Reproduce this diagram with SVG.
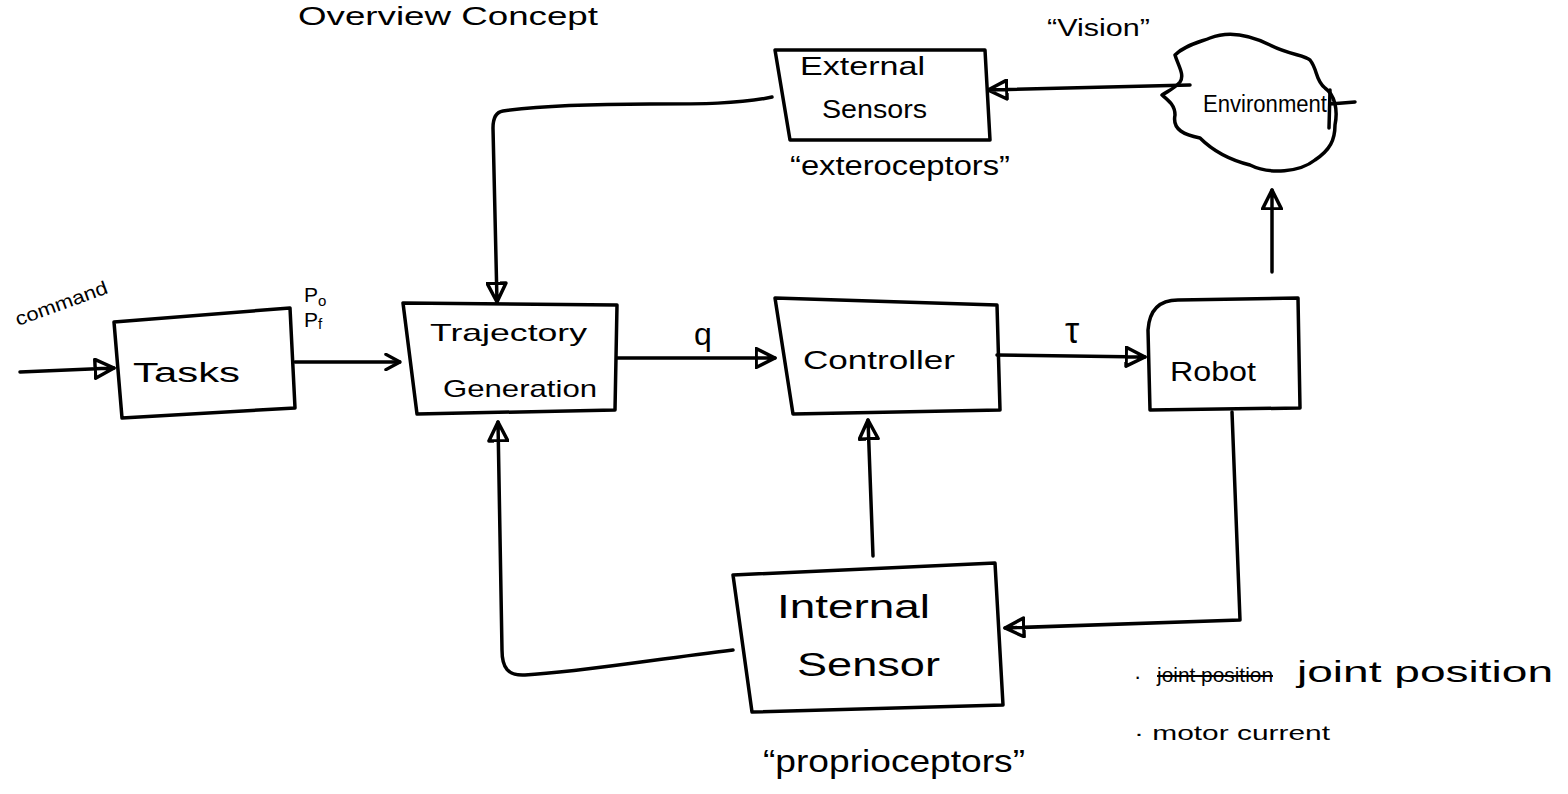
<svg xmlns="http://www.w3.org/2000/svg" width="1568" height="794" viewBox="0 0 1568 794">
<defs>
<style>
.box{fill:none;stroke:#000;stroke-width:3.5;stroke-linejoin:round;stroke-linecap:round}
.ln{fill:none;stroke:#000;stroke-width:3.5;stroke-linecap:round;stroke-linejoin:round}
.t{font-family:"Liberation Sans","DejaVu Sans",sans-serif;fill:#000}
.c{text-anchor:middle}
</style>
<marker id="tri" viewBox="0 0 14 14" refX="13" refY="7" markerWidth="22" markerHeight="22" markerUnits="userSpaceOnUse" orient="auto">
<path d="M1,1 L13,7 L1,13 Z M1,7 L13,7" fill="#fff" stroke="#000" stroke-width="2.2" stroke-linejoin="round"/>
</marker>
<marker id="vee" viewBox="0 0 14 14" refX="13" refY="7" markerWidth="18" markerHeight="18" markerUnits="userSpaceOnUse" orient="auto">
<path d="M2,1 L13,7 L2,13" fill="none" stroke="#000" stroke-width="2.5" stroke-linejoin="round" stroke-linecap="round"/>
</marker>
</defs>
<rect width="1568" height="794" fill="#fff"/>

<text class="t" x="298" y="25" font-size="26" textLength="300" lengthAdjust="spacingAndGlyphs">Overview Concept</text>

<g id="connectors">
<path class="ln" d="M20,372 L114,368" marker-end="url(#tri)"/>
<path class="ln" d="M295,362 L400,362" marker-end="url(#vee)"/>
<path class="ln" d="M617,358 L775,358" marker-end="url(#tri)"/>
<path class="ln" d="M997,355 L1145,357" marker-end="url(#tri)"/>
<path class="ln" d="M1272,272 L1272,190" marker-end="url(#tri)"/>
<path class="ln" d="M1190,85 L988,90" marker-end="url(#tri)"/>
<path class="ln" d="M772,97 C740,104 700,104 650,104 C580,104 540,106 503,111 C496,112 493,118 493,128 L497,302" marker-end="url(#tri)"/>
<path class="ln" d="M873,556 L868,420" marker-end="url(#tri)"/>
<path class="ln" d="M1232,412 L1240,620 L1005,628" marker-end="url(#tri)"/>
<path class="ln" d="M733,650 C650,660 580,672 525,675 C508,676 502,668 502,650 L498,422" marker-end="url(#tri)"/>
</g>

<g id="command">
<text class="t" font-size="19" textLength="97" lengthAdjust="spacingAndGlyphs" transform="translate(18,326) rotate(-20)">command</text>
</g>
<g id="p-labels">
<text class="t" x="304" y="302" font-size="21">P<tspan font-size="15" dy="4">o</tspan></text>
<text class="t" x="304" y="327" font-size="21">P<tspan font-size="15" dy="2">f</tspan></text>
</g>

<g id="tasks">
<path class="box" d="M114,322 L290,308 L295,408 L122,418 Z"/>
<text class="t" x="133" y="382" font-size="27" textLength="107" lengthAdjust="spacingAndGlyphs">Tasks</text>
</g>

<g id="trajectory">
<path class="box" d="M403,303 L617,305 L615,410 L417,414 Z"/>
<text class="t" x="430" y="341" font-size="24" textLength="157" lengthAdjust="spacingAndGlyphs">Trajectory</text>
<text class="t" x="443" y="397" font-size="24" textLength="154" lengthAdjust="spacingAndGlyphs">Generation</text>
</g>

<text class="t c" x="703" y="345" font-size="32">q</text>

<g id="controller">
<path class="box" d="M775,298 L997,305 L1000,410 L793,414 Z"/>
<text class="t" x="803" y="369" font-size="26" textLength="152" lengthAdjust="spacingAndGlyphs">Controller</text>
</g>

<text class="t c" x="1072" y="343" font-size="36">τ</text>

<g id="robot">
<path class="box" d="M1148,330 Q1150,300 1178,300 L1298,298 L1300,408 L1150,410 Z"/>
<text class="t" x="1170" y="381" font-size="27" textLength="86" lengthAdjust="spacingAndGlyphs">Robot</text>
</g>

<g id="environment">
<path class="box" d="M1210,38 C1230,30 1250,35 1270,45 C1290,55 1305,55 1310,60 C1318,70 1315,80 1325,88 C1335,95 1338,110 1335,125 C1335,140 1330,150 1315,160 C1300,172 1270,175 1250,165 C1230,160 1212,150 1200,138 C1185,135 1172,130 1175,115 C1175,105 1168,100 1162,95 C1170,90 1175,88 1180,82 C1185,75 1178,65 1175,55 C1185,45 1200,42 1210,38 Z"/>
<text class="t" x="1203" y="112" font-size="23" textLength="124" lengthAdjust="spacingAndGlyphs">Environment</text>
<path class="ln" d="M1330,104 L1355,102 M1330,90 L1329,128" stroke-width="2.5"/>
</g>
<text class="t" x="1047" y="36" font-size="23" textLength="103" lengthAdjust="spacingAndGlyphs">“Vision”</text>

<g id="external-sensors">
<path class="box" d="M775,50 L985,50 L990,140 L790,140 Z"/>
<text class="t" x="800" y="75" font-size="25" textLength="125" lengthAdjust="spacingAndGlyphs">External</text>
<text class="t" x="822" y="118" font-size="25" textLength="105" lengthAdjust="spacingAndGlyphs">Sensors</text>
</g>
<text class="t" x="790" y="175" font-size="27" textLength="220" lengthAdjust="spacingAndGlyphs">“exteroceptors”</text>

<g id="internal-sensor">
<path class="box" d="M733,575 L995,563 L1003,705 L752,712 Z"/>
<text class="t" x="777" y="618" font-size="34" textLength="153" lengthAdjust="spacingAndGlyphs">Internal</text>
<text class="t" x="797" y="676" font-size="34" textLength="143" lengthAdjust="spacingAndGlyphs">Sensor</text>
</g>
<text class="t" x="763" y="772" font-size="32" textLength="262" lengthAdjust="spacingAndGlyphs">“proprioceptors”</text>

<g id="notes">
<text class="t" x="1134" y="684" font-size="22">·</text>
<text class="t" x="1157" y="682" font-size="20" textLength="116" lengthAdjust="spacingAndGlyphs" text-decoration="line-through">joint position</text>
<text class="t" x="1297" y="682" font-size="30" textLength="256" lengthAdjust="spacingAndGlyphs">joint position</text>
<text class="t" x="1134" y="740" font-size="20" textLength="196" lengthAdjust="spacingAndGlyphs">· motor current</text>
</g>
</svg>
